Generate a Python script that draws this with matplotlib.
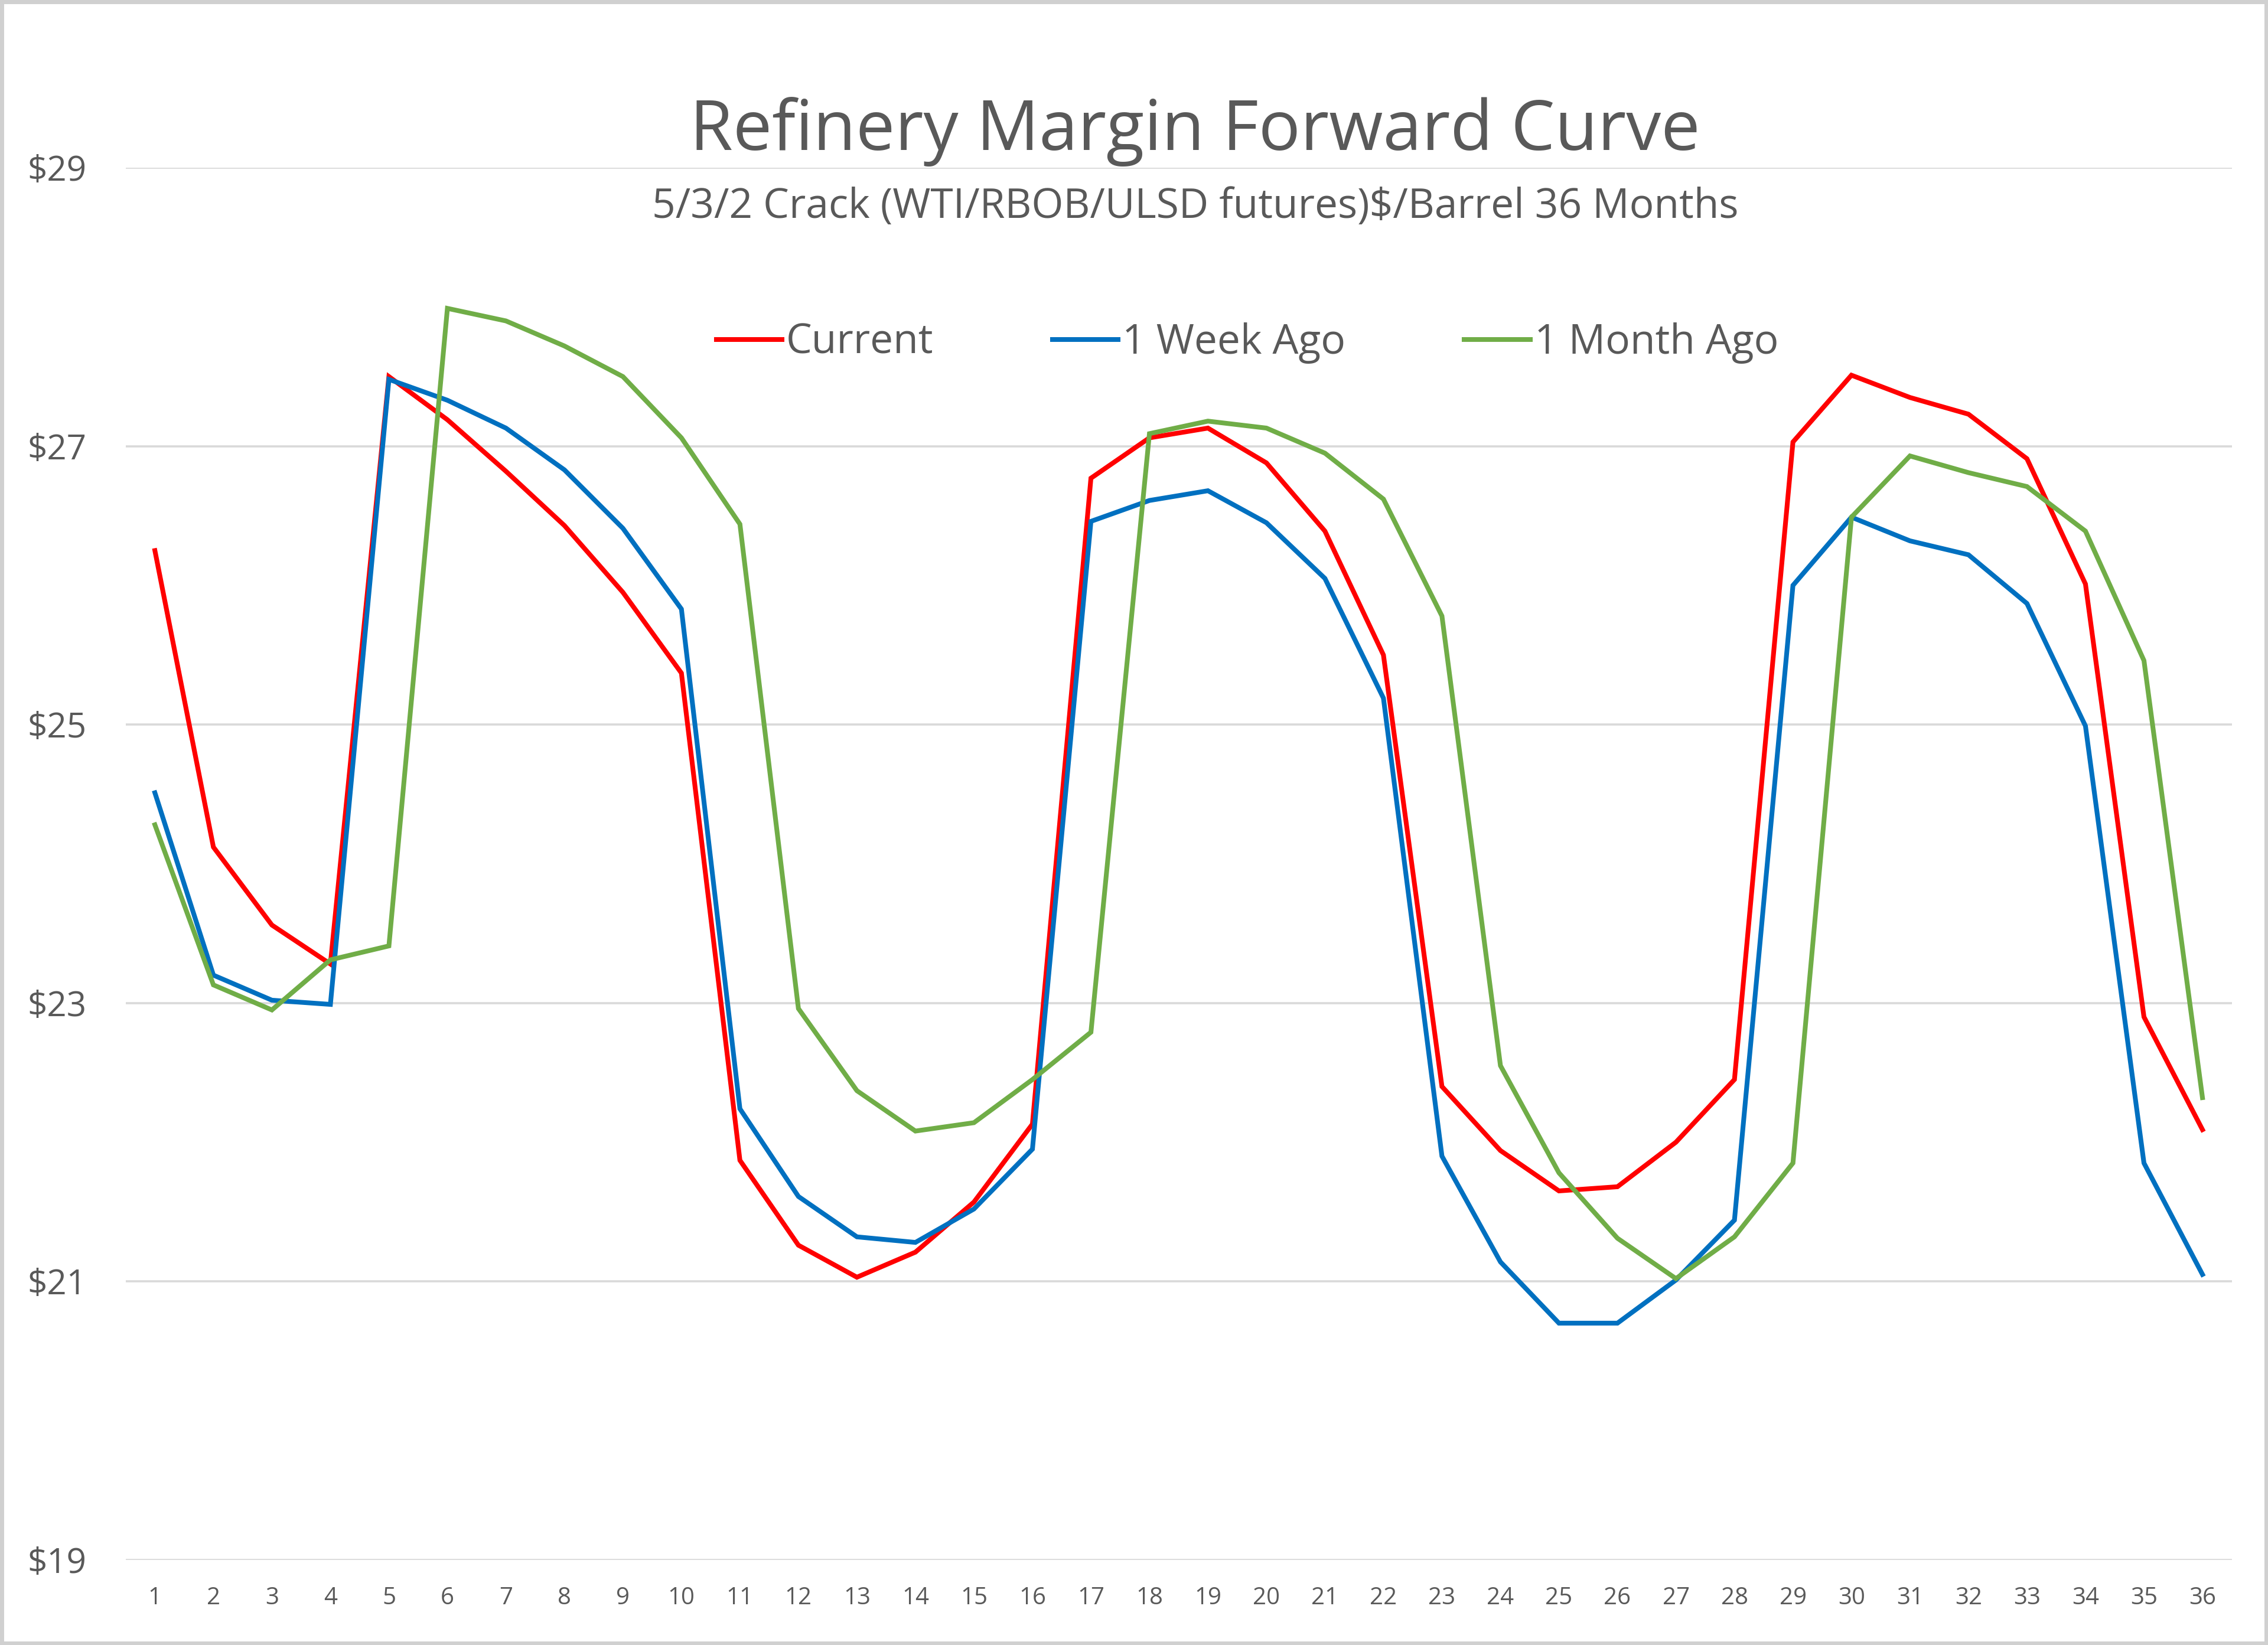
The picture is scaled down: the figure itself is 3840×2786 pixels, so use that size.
import matplotlib
matplotlib.use("Agg")
import matplotlib.pyplot as plt
import numpy as np

plt.rcParams['font.family'] = ['Open Sans', 'DejaVu Sans']

months = list(range(1, 37))

current = [26.25, 24.12, 23.56, 23.28, 27.50, 27.19, 26.82, 26.43, 25.95, 25.37,
           21.87, 21.26, 21.03, 21.21, 21.57, 22.13, 26.77, 27.06, 27.13, 26.88,
           26.39, 25.50, 22.40, 21.94, 21.65, 21.68, 22.00, 22.45, 27.03, 27.51,
           27.35, 27.23, 26.91, 26.01, 22.90, 22.09]

week_ago = [24.51, 23.20, 23.02, 22.99, 27.48, 27.33, 27.13, 26.83, 26.41, 25.83,
            22.24, 21.61, 21.32, 21.28, 21.52, 21.95, 26.46, 26.61, 26.68, 26.45,
            26.05, 25.19, 21.90, 21.14, 20.70, 20.70, 21.01, 21.44, 26.00, 26.49,
            26.32, 26.22, 25.87, 24.99, 21.85, 21.05]

month_ago = [24.28, 23.13, 22.95, 23.31, 23.41, 27.99, 27.90, 27.72, 27.50, 27.06,
             26.44, 22.96, 22.37, 22.08, 22.14, 22.45, 22.79, 27.09, 27.18, 27.13,
             26.95, 26.62, 25.78, 22.55, 21.78, 21.31, 21.02, 21.32, 21.85, 26.49,
             26.93, 26.81, 26.71, 26.39, 25.46, 22.32]

series = [("Current", current, "#FF0000"),
          ("1 Week Ago", week_ago, "#0070C0"),
          ("1 Month Ago", month_ago, "#70AD47")]

y_ticks = [19, 21, 23, 25, 27, 29]

fig = plt.figure(figsize=(19.2, 13.93), dpi=200)
fig.patch.set_facecolor("white")
fig.patch.set_edgecolor("#D0D0D0")
fig.patch.set_linewidth(4)

ax = fig.add_axes([0.0554, 0.0518, 0.9286, 0.8462])

for name, vals, col in series:
    ax.plot(months, vals, color=col, lw=2.9, label=name, solid_joinstyle="miter")

ax.set_xlim(0.5, 36.5)
ax.set_ylim(19, 29)
ax.set_yticks(y_ticks)
ax.set_yticklabels([f"${v}" for v in y_ticks])
ax.set_xticks(months)
ax.grid(axis="y", color="#D9D9D9", lw=1.3)
ax.set_axisbelow(True)
for s in ax.spines.values():
    s.set_visible(False)
ax.tick_params(axis="both", length=0, colors="#595959")
ax.tick_params(axis="y", labelsize=21, pad=24)
ax.tick_params(axis="x", labelsize=14.5, pad=16)

fig.text(0.527, 0.920, "Refinery Margin Forward Curve", ha="center", va="center",
         fontsize=42.5, color="#595959")
fig.text(0.527, 0.874, "5/3/2 Crack (WTI/RBOB/ULSD futures)$/Barrel 36 Months",
         ha="center", va="center", fontsize=25, color="#595959")

fig.legend(loc="center", bbox_to_anchor=(0.55, 0.7915), ncol=3, frameon=False,
           fontsize=25, labelcolor="#595959", handlelength=1.6, handletextpad=0.1,
           columnspacing=2.9)

fig.savefig("out.png", dpi=200, facecolor=fig.get_facecolor(), edgecolor=fig.get_edgecolor())
